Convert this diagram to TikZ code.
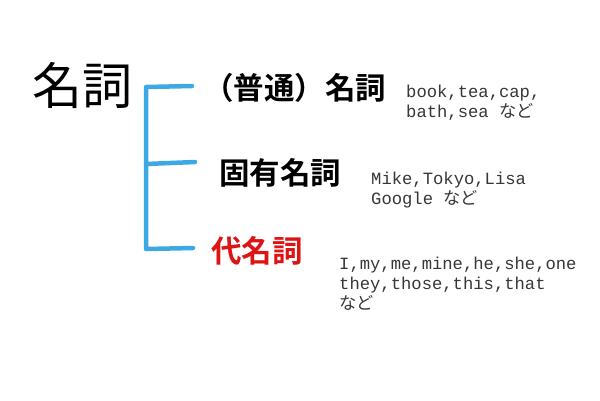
\documentclass[tikz,border=0pt]{standalone}
\usepackage{fontspec}
\newfontfamily\jp{Noto Sans CJK JP}
\newfontfamily\jpb{Noto Sans CJK JP Bold}
\newfontfamily\mono{Liberation Mono}
\definecolor{penblue}{RGB}{60,168,228}
\definecolor{nred}{RGB}{222,20,20}
\definecolor{extext}{RGB}{55,55,55}
\tikzset{
  brack/.style={draw=penblue,line width=4.5pt,line cap=round,line join=round},
  title/.style={inner sep=0pt,anchor=west,font=\jp\fontsize{50}{54}\selectfont},
  kind/.style={inner sep=0pt,anchor=west,font=\jpb\fontsize{30.5}{33}\selectfont},
  ex/.style={inner sep=0pt,anchor=north west,align=left,text=extext,font=\mono\fontsize{17.2}{20}\selectfont}
}
\newcommand{\nd}{{\jp など}}
\begin{document}
\begin{tikzpicture}[x=1pt,y=-1pt]
\useasboundingbox[fill=white] (0,0) rectangle (600,400);
\node[title] (meishi) at (32,85) {名詞};
\node[kind] (futsu) at (203,88) {（普通）名詞};
\node[ex] (ex1) at (406,85) {book,tea,cap,\\bath,sea \nd};
\node[kind] (koyu) at (219,173) {固有名詞};
\node[ex] (ex2) at (371,172) {Mike,Tokyo,Lisa\\Google \nd};
\node[kind,text=nred] (dai) at (211,251) {代名詞};
\node[ex] (ex3) at (339,257) {I,my,me,mine,he,she,one\\they,those,this,that\\\nd};
\coordinate (b1) at (192,86);
\coordinate (c1) at (146,87);
\coordinate (b2) at (195,162);
\coordinate (c2) at (146,164);
\coordinate (b3) at (193,248);
\coordinate (c3) at (146,249);
\draw[brack] (b1) -- (c1) -- (c3) -- (b3);
\draw[brack] (c2) -- (b2);
\end{tikzpicture}
\end{document}
